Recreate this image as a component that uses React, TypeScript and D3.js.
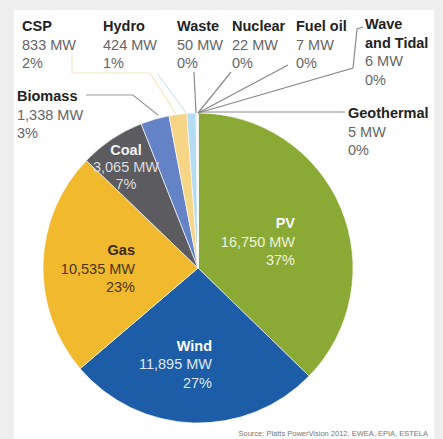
import React from "react";
import * as d3 from "d3";

const categories = ["PV", "Wind", "Gas", "Coal", "Biomass", "CSP", "Hydro", "Waste", "Nuclear", "Fuel oil", "Wave and Tidal", "Geothermal"];
const capacityMW = [16750, 11895, 10535, 3065, 1338, 833, 424, 50, 22, 7, 6, 5];
const mwLabels = ["16,750 MW", "11,895 MW", "10,535 MW", "3,065 MW", "1,338 MW", "833 MW", "424 MW", "50 MW", "22 MW", "7 MW", "6 MW", "5 MW"];
const pctLabels = ["37%", "27%", "23%", "7%", "3%", "2%", "1%", "0%", "0%", "0%", "0%", "0%"];
const sourceText = "Source: Platts PowerVision 2012, EWEA, EPIA, ESTELA";

const colors = ["#8aaa35", "#1d5ca6", "#f1b92e", "#5c5c60", "#6483c6", "#f6d587", "#b3dbf2", "#d8d8d8", "#cccccc", "#dddddd", "#d0d0d0", "#e0e0e0"];

// label layout (positions only)
type Lay = { x: number; y: number; anchor: "start" | "middle" | "end"; title: string; value: string; pct: string; lines?: string[] };
const W = 443, H = 439;
const cx = 198, cy = 268, R = 155;
const LH = 18.5;
const FS = 14.5;

export default function App() {
  const pie = d3.pie<number>().sort(null).value((d) => d)(capacityMW);
  const arc = d3.arc<d3.PieArcDatum<number>>().innerRadius(0).outerRadius(R);

  const inner: { i: number; x: number; y: number; anchor: "start" | "middle" | "end"; lh: number; tc: string; vc: string }[] = [
    { i: 0, x: 295, y: 228, anchor: "end", lh: 18.5, tc: "#ffffff", vc: "#eef3dd" },
    { i: 1, x: 212, y: 351, anchor: "end", lh: 18.3, tc: "#ffffff", vc: "#dfe8f4" },
    { i: 2, x: 135, y: 255, anchor: "end", lh: 18.5, tc: "#3a2a0c", vc: "#4a3510" },
    { i: 3, x: 126, y: 155, anchor: "middle", lh: 17, tc: "#f2f2f2", vc: "#dddddd" },
  ];

  const outer: { i: number; x: number; y: number; titleLines: string[] }[] = [
    { i: 5, x: 22, y: 31, titleLines: ["CSP"] },
    { i: 6, x: 103, y: 31, titleLines: ["Hydro"] },
    { i: 7, x: 177, y: 31, titleLines: ["Waste"] },
    { i: 8, x: 232, y: 31, titleLines: ["Nuclear"] },
    { i: 9, x: 296, y: 31, titleLines: ["Fuel oil"] },
    { i: 10, x: 365, y: 29, titleLines: ["Wave", "and Tidal"] },
    { i: 4, x: 17, y: 101, titleLines: ["Biomass"] },
    { i: 11, x: 348, y: 118, titleLines: ["Geothermal"] },
  ];

  const top: [number, number] = [cx, cy - R];
  const leaders: { pts: [number, number][]; color: string }[] = [
    { pts: [[72, 53], [72, 73], [150, 73], [176, 114]], color: "#f3e6bd" },
    { pts: [[157, 73], [187, 114]], color: "#d3e4ef" },
    { pts: [[86, 95], [133, 95], [158, 115]], color: "#9a9a9a" },
    { pts: [[194, 72], [196, 113]], color: "#8a8a8a" },
    { pts: [[231, 72], top], color: "#8a8a8a" },
    { pts: [[288, 65], top], color: "#8a8a8a" },
    { pts: [[353, 68], [357, 29], [363, 27]], color: "#8a8a8a" },
    { pts: [[200, 112], [345, 112]], color: "#8a8a8a" },
  ];
  leaders[6].pts.unshift(top);
  const line = d3.line();

  return (
    <svg width={W} height={H} style={{ position: "absolute", left: 0, top: 0 }} fontFamily="'Liberation Sans', Arial, sans-serif">
      <rect x={0} y={0} width={W} height={H} fill="#eeeeee" />
      <rect x={14} y={10} width={420} height={H - 10} fill="#ffffff" />
      <g transform={`translate(${cx},${cy})`}>
        {pie.map((p, i) => (
          <path key={i} d={arc(p) || ""} fill={colors[i]} stroke="#ffffff" strokeWidth={0.8} strokeOpacity={0.8} />
        ))}
      </g>
      {leaders.map((l, k) => (
        <path key={k} d={line(l.pts) || ""} fill="none" stroke={l.color} strokeWidth={1.2} />
      ))}
      {inner.map((b) => (
        <text key={b.i} x={b.x} y={b.y} textAnchor={b.anchor} fontSize={FS}>
          <tspan x={b.x} fontWeight="bold" fill={b.tc}>{categories[b.i]}</tspan>
          <tspan x={b.x} dy={b.lh} fill={b.vc}>{mwLabels[b.i]}</tspan>
          <tspan x={b.x} dy={b.lh} fill={b.vc}>{pctLabels[b.i]}</tspan>
        </text>
      ))}
      {outer.map((b) => (
        <text key={b.i} x={b.x} y={b.y} fontSize={FS}>
          {b.titleLines.map((t, k) => (
            <tspan key={k} x={b.x} dy={k === 0 ? 0 : LH} fontWeight="bold" fill="#222222">{t}</tspan>
          ))}
          <tspan x={b.x} dy={LH} fill="#666666">{mwLabels[b.i]}</tspan>
          <tspan x={b.x} dy={LH} fill="#666666">{pctLabels[b.i]}</tspan>
        </text>
      ))}
      <text x={428} y={436} textAnchor="end" fontSize={7.5} fill="#777777">{sourceText}</text>
    </svg>
  );
}
